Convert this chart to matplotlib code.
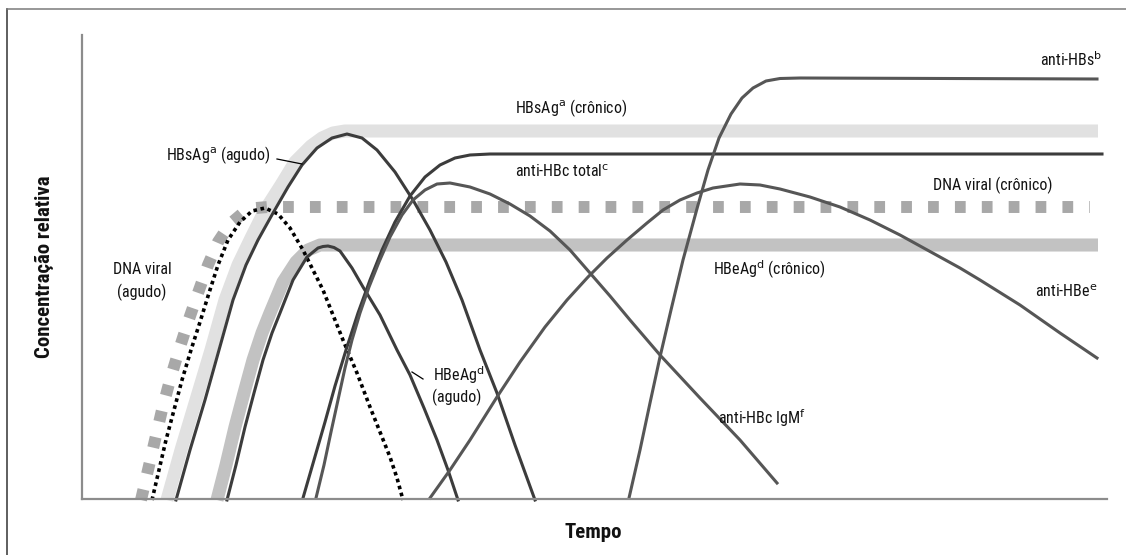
import os
import numpy as np
import matplotlib
matplotlib.use("Agg")
from matplotlib import pyplot as plt
from matplotlib import font_manager as fm
from matplotlib.lines import Line2D


def pick_font(prefixes):
    files = sorted({f.fname for f in fm.fontManager.ttflist})
    for p in prefixes:
        for fn in files:
            if os.path.basename(fn).startswith(p):
                return fm.FontProperties(fname=fn)
    return None


reg = pick_font(['LiberationSansNarrow-Regular', 'RobotoCondensed-Regular', 'NotoSans-Condensed.',
                 'OpenSans_Condensed-Regular', 'OpenSans-CondensedRegular', 'DejaVuSansCondensed.'])
bold = pick_font(['LiberationSansNarrow-Bold.', 'RobotoCondensed-Bold.', 'NotoSans-CondensedBold.',
                  'OpenSans_Condensed-Bold.', 'OpenSans-CondensedBold.', 'DejaVuSansCondensed-Bold.'])
if reg is None:
    reg = fm.FontProperties(family='DejaVu Sans')
if bold is None:
    bold = fm.FontProperties(family='DejaVu Sans', weight='bold')
plt.rcParams['mathtext.fontset'] = 'custom'
plt.rcParams['mathtext.rm'] = reg.get_name()

# curves: tempo (x) and level (y, top of axis = 35, baseline = 499)
dna_agudo_x = [152, 159, 166, 174, 182, 191, 200, 209, 218, 228, 240, 252, 265, 278, 290, 303, 313, 323, 333, 343, 357, 370, 380, 390, 397, 403]
dna_agudo_y = [500, 470, 440, 410, 380, 350, 322, 293, 265, 240, 222, 211, 208, 214, 228, 250, 270, 290, 315, 340, 373, 407, 432, 457, 478, 500]

dna_cron_x = [141, 148, 155, 162, 170, 179, 188, 198, 208, 218, 230, 243, 256, 268, 1090]
dna_cron_y = [500, 470, 440, 410, 380, 350, 322, 293, 265, 242, 224, 213, 208, 207, 207]

hbsag_cron_x = [167, 181, 196, 211, 225, 238, 251, 265, 281, 295, 311, 322, 333, 345, 1098]
hbsag_cron_y = [500, 450, 400, 350, 300, 265, 238, 210, 185, 162, 146, 138, 133, 131, 131]

hbsag_agudo_x = [176, 190, 205, 219, 233, 246, 258, 273, 288, 302, 317, 332, 347, 362, 377, 395, 413, 430, 446, 462, 480, 497, 515, 535]
hbsag_agudo_y = [500, 450, 400, 350, 300, 265, 240, 213, 187, 165, 148, 138, 134, 138, 150, 172, 200, 230, 262, 300, 350, 393, 445, 500]

hbeag_cron_x = [217, 226, 235, 244, 253, 262, 270, 283, 296, 308, 320, 1098]
hbeag_cron_y = [500, 465, 427, 393, 360, 333, 313, 282, 262, 250, 245, 245]

hbeag_agudo_x = [227, 236, 245, 254, 263, 272, 280, 293, 307, 318, 323, 328, 334, 340, 352, 363, 380, 397, 410, 424, 437, 448, 458]
hbeag_agudo_y = [500, 465, 427, 393, 360, 333, 313, 280, 257, 248, 246.5, 246, 247.5, 251, 268, 287, 315, 350, 375, 408, 440, 470, 500]

hbc_total_x = [303, 314, 325, 335, 346, 358, 370, 382, 395, 410, 425, 440, 455, 470, 490, 1102]
hbc_total_y = [498, 460, 422, 386, 350, 313, 280, 250, 222, 196, 177, 165, 158, 155, 154, 154]

hbc_igm_x = [316, 324, 331, 338, 345, 352, 360, 369, 379, 390, 402, 413, 425, 437, 450, 470, 490, 510, 530, 550, 570, 590, 610, 630, 660, 700, 740, 777]
hbc_igm_y = [498, 465, 432, 400, 368, 340, 313, 287, 262, 237, 215, 200, 190, 184, 183, 187, 194, 204, 216, 231, 250, 273, 296, 320, 355, 398, 440, 483]

anti_hbe_x = [430, 450, 470, 497, 520, 545, 567, 588, 607, 627, 647, 663, 680, 697, 713, 740, 760, 780, 810, 840, 870, 900, 940, 960, 980, 1020, 1060, 1097]
anti_hbe_y = [498, 470, 440, 397, 362, 327, 300, 277, 258, 240, 223, 210, 200, 193, 188, 184, 185, 189, 197, 207, 220, 235, 257, 268, 280, 305, 333, 358]

anti_hbs_x = [629, 640, 650, 660, 671, 683, 698, 708, 719, 731, 742, 753, 766, 780, 800, 1097]
anti_hbs_y = [498, 450, 403, 357, 310, 260, 205, 170, 138, 114, 98, 88, 81, 78.5, 78, 79]

fig = plt.figure(figsize=(11.26, 5.55), dpi=100)
W, H = 1126, 555
ax = fig.add_axes([82 / W, 1 - 499 / H, (1107 - 82) / W, (499 - 35) / H])
ax.set_xlim(82, 1107)
ax.set_ylim(499, 35)
for s in ['top', 'right']:
    ax.spines[s].set_visible(False)
for s in ['left', 'bottom']:
    ax.spines[s].set_color('#8c8c8c')
    ax.spines[s].set_linewidth(1.6)
ax.set_xticks([])
ax.set_yticks([])

dark = '#3c3c3c'
mid = '#565656'
lw = 2.2

ax.plot(hbsag_cron_x, hbsag_cron_y, color='#e1e1e1', lw=9.4, solid_capstyle='butt', solid_joinstyle='round', clip_on=False)
ax.plot(hbeag_cron_x, hbeag_cron_y, color='#c2c2c2', lw=9.4, solid_capstyle='butt', solid_joinstyle='round', clip_on=False)
ax.plot(dna_cron_x, dna_cron_y, color='#a8a8a8', lw=8.6, dashes=(0.9, 1.35), dash_capstyle='butt', clip_on=False)
ax.plot(dna_agudo_x, dna_agudo_y, color='black', lw=2.6, dashes=(1, 1), clip_on=False)

kw = dict(lw=lw, solid_joinstyle='round', clip_on=False)
ax.plot(hbsag_agudo_x, hbsag_agudo_y, color=dark, **kw)
ax.plot(hbeag_agudo_x, hbeag_agudo_y, color=dark, **kw)
ax.plot(hbc_total_x, hbc_total_y, color=dark, **kw)
ax.plot(hbc_igm_x, hbc_igm_y, color=mid, **kw)
ax.plot(anti_hbe_x, anti_hbe_y, color=mid, **kw)
ax.plot(anti_hbs_x, anti_hbs_y, color=mid, **kw)

# leader ticks
ax.plot([277, 302], [159, 164], color='black', lw=0.9)
ax.plot([412, 423], [372, 379], color='black', lw=0.9)

fs = 11.5
tc = '#111111'
tk = dict(va='center', fontproperties=reg, fontsize=fs, color=tc)
ax.text(1102, 60, r'anti-HBs$^{\mathrm{b}}$', ha='right', **tk)
ax.text(515, 108, r'HBsAg$^{\mathrm{a}}$ (crônico)', ha='left', **tk)
ax.text(515, 172, r'anti-HBc total$^{\mathrm{c}}$', ha='left', **tk)
ax.text(933, 185, 'DNA viral (crônico)', ha='left', **tk)
ax.text(713, 270, r'HBeAg$^{\mathrm{d}}$ (crônico)', ha='left', **tk)
ax.text(1035, 292, r'anti-HBe$^{\mathrm{e}}$', ha='left', **tk)
ax.text(718, 418, r'anti-HBc IgM$^{\mathrm{f}}$', ha='left', **tk)
ax.text(433, 375, r'HBeAg$^{\mathrm{d}}$', ha='left', **tk)
ax.text(432, 397, '(agudo)', ha='left', **tk)
ax.text(166, 155, r'HBsAg$^{\mathrm{a}}$ (agudo)', ha='left', **tk)
ax.text(142, 270, 'DNA viral', ha='center', **tk)
ax.text(142, 292, '(agudo)', ha='center', **tk)

fig.text(44 / W, 1 - 267 / H, 'Concentração relativa', rotation=90, ha='center', va='center',
         fontproperties=bold, fontsize=15, color=tc)
fig.text(593 / W, 1 - 533 / H, 'Tempo', ha='center', va='center', fontproperties=bold, fontsize=15, color=tc)

# outer frame (left and top edges visible)
fig.add_artist(Line2D([7 / W, 7 / W], [1 - 9 / H, 0], transform=fig.transFigure, color='#333333', lw=1.1))
fig.add_artist(Line2D([7 / W, 1], [1 - 9 / H, 1 - 9 / H], transform=fig.transFigure, color='#7a7a7a', lw=1.1))

fig.savefig('out.png', dpi=100)
